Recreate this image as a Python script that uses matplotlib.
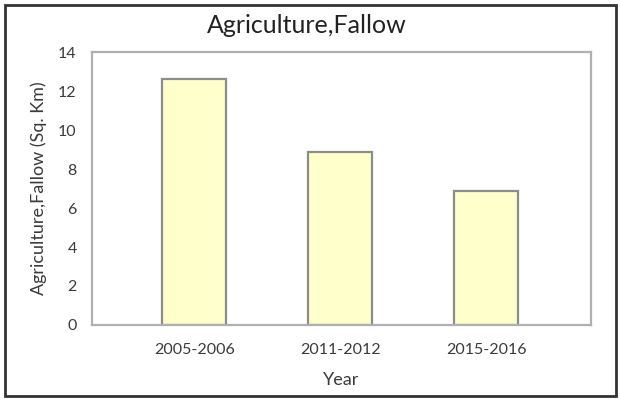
import matplotlib
matplotlib.use("Agg")
import matplotlib.pyplot as plt
from matplotlib.patches import Rectangle

years = ["2005-2006", "2011-2012", "2015-2016"]
fallow_area = [12.6, 8.85, 6.85]
y_ticks = [0, 2, 4, 6, 8, 10, 12, 14]

plt.rcParams['font.family'] = ['Lato', 'DejaVu Sans']

fig = plt.figure(figsize=(6.2, 3.99), dpi=100)
ax = fig.add_axes([0.1484, 0.1855, 0.805, 0.684])

x = range(len(years))
ax.bar(x, fallow_area, width=0.44, color='#ffffcc', edgecolor='#8c8c8c', linewidth=1.6)

ax.set_xlim(-0.70, 2.72)
ax.set_ylim(0, 14)
ax.set_yticks(y_ticks)
ax.set_xticks(list(x))
ax.set_xticklabels(years)
ax.tick_params(axis='both', length=0, labelsize=11.5, colors='#3a3a3a')
ax.tick_params(axis='y', pad=11)
ax.tick_params(axis='x', pad=13)

for s in ax.spines.values():
    s.set_color('#b0b0b0')
    s.set_linewidth(1.6)

ax.set_xlabel("Year", fontsize=13, color='#3a3a3a', labelpad=11)
ax.set_ylabel("Agriculture,Fallow (Sq. Km)", fontsize=13, color='#3a3a3a', labelpad=8)
fig.text(0.495, 0.937, "Agriculture,Fallow", ha='center', va='center', fontsize=18, color='#222222')

# frame around the whole figure
fig.patches.append(Rectangle((0.008, 0.007), 0.986, 0.981, transform=fig.transFigure,
                             fill=False, edgecolor='#333333', linewidth=2))

fig.savefig("out.png", dpi=100)
